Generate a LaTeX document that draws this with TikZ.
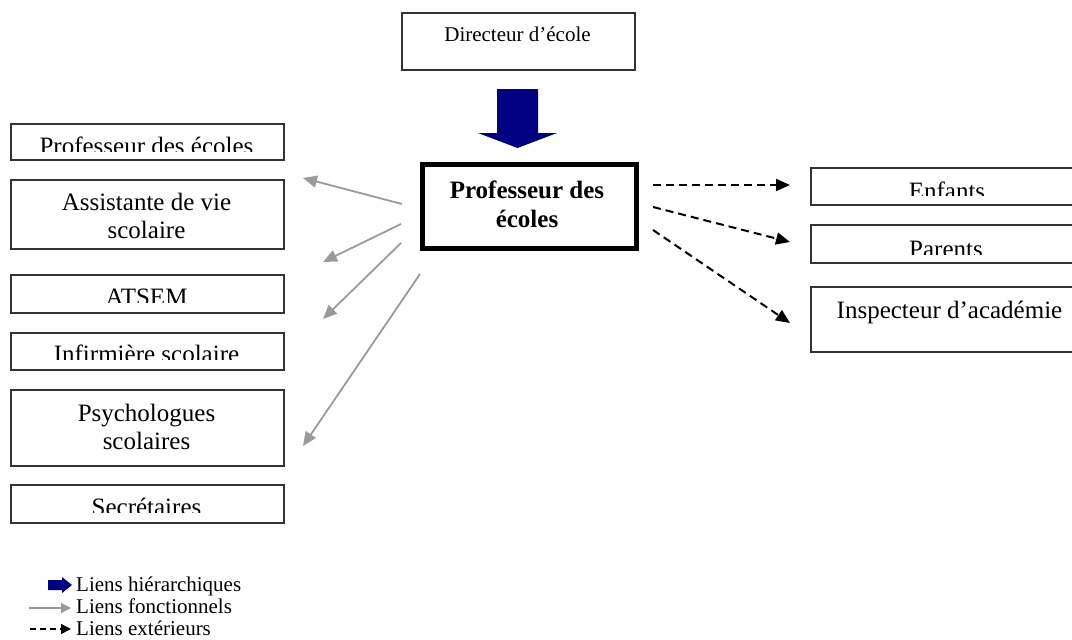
\documentclass[tikz,border=0pt]{standalone}
\usepackage{fontspec}
\setmainfont{Liberation Serif}
\usetikzlibrary{arrows.meta}
\definecolor{navyblue}{HTML}{000080}
\definecolor{linkgray}{HTML}{9A9A9A}
\definecolor{boxline}{HTML}{333333}
\newcommand\mkbox[5]{\node[box,anchor=north west,minimum width=#4pt,minimum height=#5pt] (#1) at (#2,#3) {};}
\begin{document}
\begin{tikzpicture}[x=1pt,y=-1pt,
  box/.style={draw=boxline,line width=1.8pt,inner sep=0pt},
  big/.style={font=\fontsize{25}{30}\selectfont,inner sep=0pt,anchor=base},
  bigb/.style={font=\fontsize{25}{30}\selectfont\bfseries,inner sep=0pt,anchor=base},
  mid/.style={font=\fontsize{21}{25}\selectfont,inner sep=0pt,anchor=base},
  leg/.style={font=\fontsize{21}{25}\selectfont,inner sep=0pt,anchor=base west},
  func/.style={draw=linkgray,line width=1.8pt,-{Triangle[length=14pt,width=12pt]}},
  ext/.style={draw=black,line width=2pt,dash pattern=on 8pt off 5pt,-{Triangle[length=14pt,width=12pt]}},
]
\useasboundingbox (0,0) rectangle (1072,640);
\clip (0,0) rectangle (1072,640);

% top
\mkbox{dir}{401}{12}{233}{57}
\node[mid] (tdir) at (517.5,41) {Directeur d’école};
\fill[navyblue] (497,89) -- (538,89) -- (538,133) -- (557,133) -- (517.5,148) -- (478,133) -- (497,133) -- cycle;

% centre
\node[draw=black,line width=4.5pt,anchor=north west,minimum width=214pt,minimum height=84pt,inner sep=0pt] (pe) at (420,162) {};
\node[bigb] (tpe1) at (527,198) {Professeur des};
\node[bigb] (tpe2) at (527,227) {écoles};

% left column
\mkbox{l1}{10}{123}{273}{36}
\begin{scope}\clip (10,120) rectangle (283,151);
\node[big] (tl1) at (146.5,154) {Professeur des écoles};\end{scope}
\mkbox{l2}{10}{179}{273}{69}
\node[big] (tl2a) at (146.5,210) {Assistante de vie};
\node[big] (tl2b) at (146.5,238) {scolaire};
\mkbox{l3}{10}{274}{273}{38}
\begin{scope}\clip (10,270) rectangle (283,302.5);
\node[big] (tl3) at (146.5,305.5) {ATSEM};\end{scope}
\mkbox{l4}{10}{332}{273}{37}
\begin{scope}\clip (10,330) rectangle (283,359.5);
\node[big] (tl4) at (146.5,362.5) {Infirmière scolaire};\end{scope}
\mkbox{l5}{10}{389}{273}{76}
\node[big] (tl5a) at (146.5,421) {Psychologues};
\node[big] (tl5b) at (146.5,449) {scolaires};
\mkbox{l6}{10}{484}{273}{38}
\begin{scope}\clip (10,480) rectangle (283,512);
\node[big] (tl6) at (146.5,515.5) {Secrétaires};\end{scope}

% right column
\mkbox{r1}{810}{167}{279}{37}
\begin{scope}\clip (810,165) rectangle (1089,195.5);
\node[big] (tr1) at (947,199.5) {Enfants};\end{scope}
\mkbox{r2}{810}{224}{279}{38}
\begin{scope}\clip (810,220) rectangle (1089,254);
\node[big] (tr2) at (946,257) {Parents};\end{scope}
\mkbox{r3}{810}{286}{279}{65}
\node[big] (tr3) at (949.5,318) {Inspecteur d’académie};

% functional links
\coordinate (g1s) at (402,204); \coordinate (g1e) at (303,178);
\coordinate (g2s) at (401,224); \coordinate (g2e) at (323,262);
\coordinate (g3s) at (401,243); \coordinate (g3e) at (323,319);
\coordinate (g4s) at (420,274); \coordinate (g4e) at (303,446);
\draw[func] (g1s) -- (g1e);
\draw[func] (g2s) -- (g2e);
\draw[func] (g3s) -- (g3e);
\draw[func] (g4s) -- (g4e);

% external links
\coordinate (e1s) at (653,185); \coordinate (e1e) at (790,185);
\coordinate (e2s) at (653,207); \coordinate (e2e) at (790,242);
\coordinate (e3s) at (653,230); \coordinate (e3e) at (790,323);
\draw[ext] (e1s) -- (e1e);
\draw[ext] (e2s) -- (e2e);
\draw[ext] (e3s) -- (e3e);

% legend
\fill[navyblue] (48,580) -- (62,580) -- (62,577) -- (72,585) -- (62,593) -- (62,590) -- (48,590) -- cycle;
\node[leg] (lg1) at (76,591) {Liens hiérarchiques};
\coordinate (lg2s) at (29,608); \coordinate (lg2e) at (71,608);
\draw[draw=linkgray,line width=1.3pt,-{Triangle[length=10pt,width=10pt]}] (lg2s) -- (lg2e);
\node[leg] (lg2) at (76,613) {Liens fonctionnels};
\coordinate (lg3s) at (30,629); \coordinate (lg3e) at (71,629);
\draw[draw=black,line width=1.5pt,dash pattern=on 6pt off 4pt,-{Triangle[length=10pt,width=10pt]}] (lg3s) -- (lg3e);
\node[leg] (lg3) at (76,635) {Liens extérieurs};
\end{tikzpicture}
\end{document}
